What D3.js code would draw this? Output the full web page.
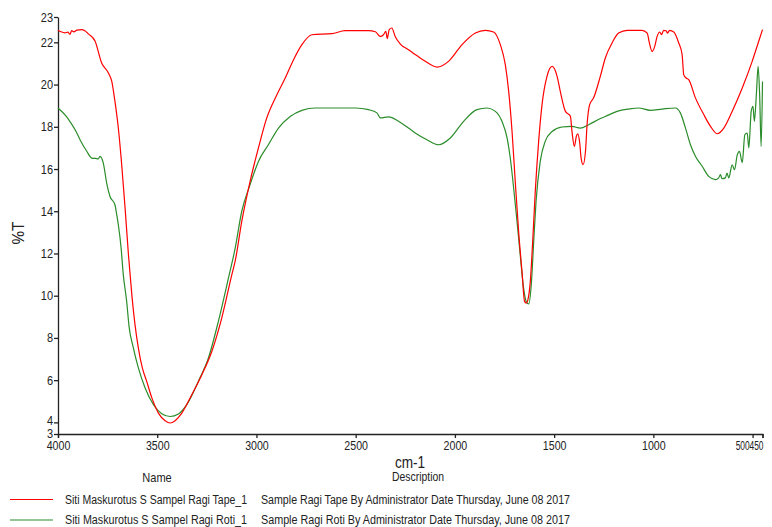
<!DOCTYPE html>
<html>
<head>
<meta charset="utf-8">
<script src="https://cdn.jsdelivr.net/npm/d3@7"></script>
<style>
  body { margin: 0; background: #fff; }
  svg text { font-family: "Liberation Sans", Arial, sans-serif; fill: #222; }
</style>
</head>
<body>
<div id="chart"></div>
<script>
// --- data (wavenumber cm-1, %T) ---
const tapeWave = [4000, 3985, 3965, 3950, 3940, 3931, 3920, 3905, 3880, 3860, 3847, 3813, 3780, 3746, 3729, 3713, 3696, 3679, 3662, 3645, 3628, 3612, 3595, 3575, 3553, 3527, 3494, 3460, 3435, 3410, 3376, 3326, 3275, 3225, 3175, 3124, 3107, 3074, 3032, 2990, 2948, 2897, 2855, 2813, 2771, 2721, 2620, 2553, 2435, 2401, 2376, 2360, 2348, 2341, 2331, 2318, 2301, 2275, 2234, 2200, 2175, 2149, 2090, 2032, 1964, 1897, 1847, 1805, 1771, 1746, 1729, 1712, 1696, 1679, 1662, 1649, 1640, 1632, 1620, 1608, 1595, 1578, 1561, 1536, 1510, 1485, 1469, 1443, 1418, 1410, 1398, 1388, 1381, 1371, 1364, 1354, 1342, 1334, 1321, 1301, 1267, 1242, 1208, 1175, 1132, 1057, 1031, 1020, 1006, 993, 981, 968, 959, 948, 936, 928, 919, 897, 872, 855, 847, 835, 822, 788, 746, 712, 678, 645, 603, 552, 502, 469, 450];
const tapeT = [22.57, 22.5, 22.45, 22.48, 22.38, 22.55, 22.5, 22.58, 22.6, 22.52, 22.4, 22.05, 21.02, 20.55, 20.15, 19.2, 17.94, 16.2, 14.16, 11.94, 10.05, 8.63, 7.52, 6.58, 5.94, 5.16, 4.44, 4.08, 3.97, 4.08, 4.44, 5.31, 6.26, 7.36, 8.94, 11.0, 11.65, 13.52, 15.42, 17.0, 18.42, 19.52, 20.31, 21.18, 21.89, 22.36, 22.41, 22.55, 22.55, 22.5, 22.28, 22.36, 22.52, 22.18, 22.6, 22.68, 22.28, 21.92, 21.65, 21.42, 21.26, 21.1, 20.83, 21.1, 21.89, 22.44, 22.57, 22.49, 21.89, 20.94, 19.68, 17.78, 15.42, 13.05, 11.15, 9.73, 9.65, 9.81, 10.68, 12.57, 14.94, 17.31, 19.05, 20.39, 20.86, 20.39, 19.68, 18.73, 18.5, 17.78, 17.07, 17.55, 17.66, 17.23, 16.52, 16.21, 16.84, 18.1, 19.05, 19.37, 20.4, 21.26, 21.97, 22.44, 22.57, 22.57, 22.44, 21.97, 21.57, 21.81, 22.28, 22.49, 22.36, 22.57, 22.55, 22.44, 22.57, 22.49, 21.97, 21.42, 20.47, 20.31, 20.23, 19.37, 18.58, 18.02, 17.67, 17.94, 18.73, 19.84, 21.1, 22.05, 22.6];

const rotiWave = [4000, 3958, 3933, 3909, 3889, 3855, 3830, 3810, 3797, 3788, 3772, 3754, 3738, 3713, 3704, 3696, 3682, 3671, 3654, 3642, 3620, 3595, 3561, 3519, 3477, 3435, 3393, 3351, 3293, 3242, 3192, 3141, 3107, 3074, 3032, 2990, 2940, 2889, 2830, 2771, 2704, 2502, 2435, 2393, 2376, 2334, 2284, 2234, 2200, 2141, 2082, 2023, 1956, 1889, 1838, 1796, 1763, 1737, 1721, 1704, 1687, 1671, 1654, 1641, 1628, 1614, 1603, 1591, 1570, 1545, 1510, 1460, 1410, 1368, 1326, 1267, 1242, 1183, 1124, 1074, 1015, 956, 889, 864, 838, 813, 788, 754, 721, 687, 671, 662, 654, 637, 629, 620, 603, 591, 577, 566, 552, 539, 527, 519, 507, 498, 491, 481, 472, 464, 457, 450];
const rotiT = [18.89, 18.49, 18.15, 17.78, 17.39, 16.84, 16.52, 16.5, 16.48, 16.6, 16.29, 15.3, 14.7, 14.31, 13.84, 13.36, 12.26, 11.0, 9.73, 8.55, 7.52, 6.58, 5.63, 4.84, 4.41, 4.28, 4.40, 4.84, 5.94, 7.05, 8.78, 10.84, 12.26, 14.0, 15.26, 16.36, 17.15, 17.94, 18.49, 18.78, 18.89, 18.89, 18.81, 18.66, 18.42, 18.47, 18.26, 17.94, 17.71, 17.39, 17.15, 17.47, 18.26, 18.81, 18.89, 18.73, 18.26, 17.47, 16.52, 15.1, 13.52, 11.94, 10.37, 9.73, 9.61, 10.68, 12.57, 14.47, 16.36, 17.31, 17.78, 17.99, 18.02, 17.94, 18.1, 18.39, 18.49, 18.73, 18.84, 18.89, 18.78, 18.84, 18.89, 18.66, 17.94, 17.15, 16.6, 16.13, 15.65, 15.5, 15.58, 15.73, 15.54, 15.58, 15.81, 15.58, 16.2, 15.97, 16.68, 16.84, 16.3, 17.63, 17.7, 17.0, 18.73, 18.97, 18.26, 19.52, 20.86, 19.4, 17.07, 20.15];

const xTicks = [4000, 3500, 3000, 2500, 2000, 1500, 1000, 500, 450];
const yTicks = [4, 6, 8, 10, 12, 14, 16, 18, 20, 22];
const yEnds = [3.45, 23.2];          // axis limits, labelled "3" and "23"
const yEndLabels = ["3", "23"];

const seriesNames = ["Siti Maskurotus S Sampel Ragi Tape_1", "Siti Maskurotus S Sampel Ragi Roti_1"];
const seriesDesc = ["Sample Ragi Tape By Administrator Date Thursday, June 08 2017",
                    "Sample Ragi Roti By Administrator Date Thursday, June 08 2017"];
const seriesColors = ["#ff0000", "#2a8c2a"];

const W = 772, H = 527;
const svg = d3.select("#chart").append("svg").attr("width", W).attr("height", H);

// the original uses a narrow face; squeeze Liberation Sans to match
function narrow(sel, ratio) {
    sel.each(function () {
        const w = this.getComputedTextLength();
        d3.select(this).attr("textLength", w * ratio).attr("lengthAdjust", "spacingAndGlyphs");
    });
}

const x = d3.scaleLinear().domain([4000, 450]).range([58, 762.5]);
const y = d3.scaleLinear().domain(yEnds).range([434, 17]);

// --- axes ---
const xAxis = svg.append("g")
    .attr("transform", `translate(0,${y(yEnds[0])})`)
    .call(d3.axisBottom(x).tickValues(xTicks).tickFormat(d3.format("d")).tickSizeOuter(0).tickSize(4).tickPadding(3));
xAxis.selectAll("text").style("font-size", "12.5px");
narrow(xAxis.selectAll(".tick").filter(d => d > 500).select("text"), 0.85);
// 500 and 450 sit side by side at the right end
xAxis.selectAll(".tick").filter(d => d <= 500).select("text")
    .attr("textLength", 14).attr("lengthAdjust", "spacingAndGlyphs").attr("text-anchor", "end");
xAxis.selectAll(".tick").filter(d => d === 450).select("text").attr("dx", "0.5");
xAxis.selectAll(".tick").filter(d => d === 500).select("text").attr("dx", "-3.4");

const yAxis = svg.append("g")
    .attr("transform", `translate(${x(4000)},0)`)
    .call(d3.axisLeft(y).tickValues(yTicks.concat(yEnds)).tickSize(4).tickPadding(1).tickSizeOuter(0)
        .tickFormat(d => { const i = yEnds.indexOf(d); return i >= 0 ? yEndLabels[i] : d; }));
yAxis.selectAll("text").style("font-size", "12.5px");
narrow(yAxis.selectAll("text"), 0.88);
yAxis.selectAll(".tick").filter(d => d === yEnds[0]).select("text").attr("dy", "0.25em");
yAxis.selectAll(".tick").filter(d => d === 4).select("text").attr("dy", "0.2em");

svg.selectAll(".domain, .tick line").attr("stroke", "#222").attr("stroke-width", 1.3);

// axis titles
narrow(svg.append("text").attr("transform", "translate(24,233) rotate(-90)")
    .attr("text-anchor", "middle").style("font-size", "16px").text("%T"), 0.95);
narrow(svg.append("text").attr("x", 410).attr("y", 468)
    .attr("text-anchor", "middle").style("font-size", "17px").text("cm-1"), 0.8);

// --- spectra ---
const line = d3.line().x(d => x(d[0])).y(d => y(d[1])).curve(d3.curveMonotoneX);
const series = [d3.zip(rotiWave, rotiT), d3.zip(tapeWave, tapeT)];
const order = [1, 0];   // draw green first, red on top
series.forEach((pts, i) => {
    svg.append("path")
        .attr("d", line(pts))
        .attr("fill", "none")
        .attr("stroke", seriesColors[order[i]])
        .attr("stroke-width", 1.2);
});

// --- legend ---
narrow(svg.append("text").attr("x", 157).attr("y", 482).attr("text-anchor", "middle").style("font-size", "13px").text("Name"), 0.85);
narrow(svg.append("text").attr("x", 418).attr("y", 481).attr("text-anchor", "middle").style("font-size", "13px").text("Description"), 0.8);

seriesNames.forEach((name, i) => {
    const ly = 499.5 + i * 20.5;
    svg.append("line").attr("x1", 10).attr("x2", 53).attr("y1", ly).attr("y2", ly)
        .attr("stroke", seriesColors[i]).attr("stroke-width", 1.2);
    svg.append("text").attr("x", 65).attr("y", ly + 4).style("font-size", "12.5px")
        .attr("textLength", 182).attr("lengthAdjust", "spacingAndGlyphs").text(name);
    svg.append("text").attr("x", 261).attr("y", ly + 4).style("font-size", "12.5px")
        .attr("textLength", 309).attr("lengthAdjust", "spacingAndGlyphs").text(seriesDesc[i]);
});
</script>
</body>
</html>
